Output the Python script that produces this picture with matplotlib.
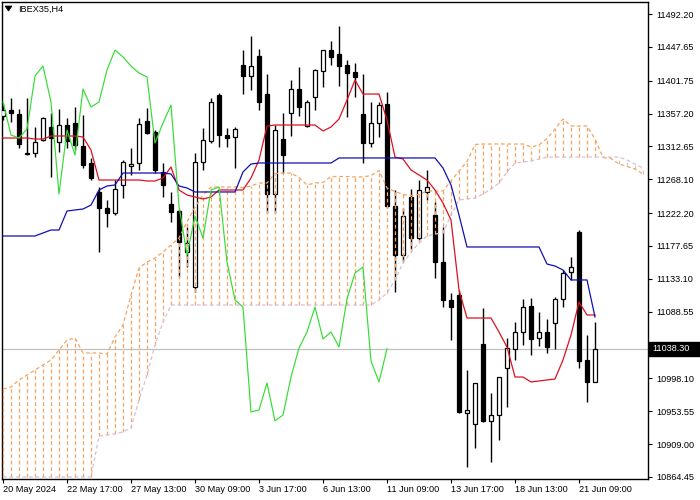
import matplotlib
matplotlib.use("Agg")
import matplotlib.pyplot as plt
from matplotlib.patches import Rectangle, Polygon
from matplotlib.transforms import blended_transform_factory

plt.rcParams['font.family'] = ['Liberation Sans', 'DejaVu Sans']

symbol = "IBEX35,H4"
last_price = 11038.30
shift = 26

opens = [11353.9, 11362.0, 11356.6, 11303.7, 11303.7, 11321.4, 11339.0, 11318.7, 11341.7, 11344.4,
         11313.2, 11290.2, 11250.9, 11229.2, 11222.4, 11260.4, 11286.1, 11290.2, 11347.1, 11332.2,
         11278.0, 11234.6, 11225.1, 11169.5, 11122.1, 11291.5, 11320.0, 11382.4, 11328.1, 11325.4,
         11423.0, 11408.1, 11435.3, 11383.7, 11248.1, 11322.7, 11358.0, 11390.5, 11340.3, 11379.7,
         11414.9, 11443.4, 11438.0, 11423.0, 11413.6, 11356.6, 11317.3, 11344.4, 11370.2, 11231.9,
         11165.4, 11243.8, 11188.5, 11250.9, 11219.7, 11156.0, 11104.4, 11111.2, 10951.2, 10936.3,
         11044.8, 10940.4, 10948.5, 11012.2, 11038.0, 11061.0, 11096.3, 11052.9, 11061.0, 11073.3,
         11105.8, 11142.4, 11196.6, 11023.1, 10993.3]
highs = [11371.5, 11378.3, 11363.4, 11378.3, 11339.0, 11352.5, 11358.0, 11363.4, 11351.2, 11366.1,
         11355.3, 11297.0, 11257.6, 11240.0, 11267.1, 11294.2, 11310.5, 11351.2, 11364.8, 11334.9,
         11290.2, 11250.9, 11227.8, 11203.4, 11303.7, 11337.6, 11378.3, 11385.1, 11337.6, 11339.0,
         11443.4, 11462.4, 11444.7, 11410.8, 11341.7, 11358.0, 11402.7, 11420.3, 11375.6, 11417.6,
         11443.4, 11455.6, 11475.9, 11429.8, 11425.8, 11410.8, 11372.9, 11372.9, 11386.4, 11253.6,
         11229.2, 11254.9, 11267.1, 11280.7, 11237.3, 11203.4, 11113.9, 11118.0, 11009.5, 10991.9,
         11093.6, 10978.3, 11000.0, 11052.9, 11074.6, 11105.8, 11107.1, 11088.2, 11078.7, 11108.5,
         11145.1, 11162.7, 11199.3, 11057.0, 11074.6]
lows = [11348.5, 11345.8, 11310.5, 11301.0, 11298.3, 11320.0, 11271.2, 11305.1, 11310.5, 11307.8,
        11283.4, 11267.1, 11169.5, 11203.4, 11219.7, 11242.7, 11273.9, 11280.7, 11329.5, 11276.6,
        11244.1, 11210.2, 11135.6, 11149.2, 11115.3, 11280.7, 11317.3, 11311.9, 11311.9, 11283.4,
        11383.7, 11389.2, 11362.0, 11222.4, 11222.4, 11276.6, 11326.8, 11353.9, 11339.0, 11362.0,
        11393.2, 11423.0, 11394.6, 11352.5, 11379.7, 11290.2, 11311.9, 11325.4, 11229.2, 11115.3,
        11156.0, 11173.6, 11185.8, 11240.0, 11134.3, 11094.9, 11050.2, 10951.2, 10878.0, 10903.8,
        10939.0, 10884.8, 10914.6, 10959.4, 11023.1, 11043.4, 11029.9, 11042.1, 11032.6, 11038.0,
        11094.9, 11131.6, 11012.2, 10966.1, 10993.3]
closes = [11362.0, 11358.0, 11315.9, 11302.4, 11318.7, 11351.2, 11324.1, 11341.7, 11320.0, 11314.6,
          11287.5, 11269.8, 11229.2, 11222.4, 11254.9, 11291.5, 11288.8, 11343.1, 11330.9, 11280.7,
          11260.4, 11223.7, 11183.1, 11181.7, 11291.5, 11321.4, 11372.9, 11328.1, 11324.1, 11336.3,
          11408.1, 11421.7, 11372.9, 11248.1, 11334.9, 11301.0, 11390.5, 11366.1, 11372.9, 11416.3,
          11443.4, 11433.9, 11421.7, 11412.2, 11406.8, 11317.3, 11344.4, 11368.8, 11231.9, 11165.4,
          11218.3, 11188.5, 11253.6, 11257.6, 11156.0, 11104.4, 11094.9, 10952.6, 10955.3, 10991.9,
          10940.4, 10948.5, 11000.0, 11039.4, 11061.0, 11094.9, 11051.6, 11061.0, 11040.7, 11105.8,
          11141.0, 11149.2, 11021.7, 10993.3, 11038.3]

tenkan = [11324.1, 11324.1, 11324.1, 11324.1, 11322.7, 11322.7, 11326.8, 11326.8, 11326.8, 11326.8,
          11325.4, 11307.8, 11267.1, 11267.1, 11267.1, 11267.1, 11267.1, 11267.1, 11265.8, 11265.8,
          11269.8, 11284.8, 11253.6, 11246.8, 11244.1, 11241.4, 11244.1, 11253.6, 11253.6, 11253.6,
          11253.6, 11269.8, 11294.2, 11340.3, 11341.7, 11341.7, 11341.7, 11341.7, 11341.7, 11341.7,
          11333.6, 11339.0, 11349.8, 11375.6, 11402.7, 11383.7, 11383.7, 11383.7, 11348.5, 11298.3,
          11295.6, 11280.7, 11273.9, 11267.1, 11253.6, 11235.9, 11212.9, 11118.0, 11080.0, 11080.0,
          11080.0, 11080.0, 11061.0, 11040.7, 11000.0, 11000.0, 10993.3, 10994.6, 10996.0, 10997.3,
          11023.1, 11057.0, 11101.7, 11084.1, 11084.1]
kijun = [11191.2, 11191.2, 11191.2, 11191.2, 11191.2, 11195.3, 11199.3, 11199.3, 11225.1, 11226.5,
         11227.8, 11233.2, 11253.6, 11259.0, 11260.4, 11276.6, 11276.6, 11276.6, 11276.6, 11276.6,
         11276.6, 11275.3, 11259.0, 11256.3, 11250.9, 11250.9, 11250.9, 11250.9, 11250.9, 11250.9,
         11278.0, 11288.8, 11290.2, 11290.2, 11290.2, 11290.2, 11290.2, 11290.2, 11290.2, 11290.2,
         11290.2, 11290.2, 11297.0, 11297.0, 11297.0, 11297.0, 11297.0, 11297.0, 11297.0, 11297.0,
         11297.0, 11297.0, 11297.0, 11297.0, 11297.0, 11283.4, 11260.4, 11219.7, 11176.3, 11176.3,
         11176.3, 11176.3, 11176.3, 11176.3, 11176.3, 11176.3, 11176.3, 11176.3, 11153.2, 11150.5,
         11145.1, 11131.6, 11131.6, 11131.6, 11081.4]
# Senkou span A for the first 26 displayed bars (based on bars before the window)
span_a_start = [10983.8, 10986.5, 10996.0, 11002.7, 11009.5, 11016.3, 11023.1, 11036.6, 11050.2, 11052.9,
                11032.6, 11032.6, 11032.6, 11031.2, 11054.3, 11070.5, 11111.2, 11147.8, 11156.0, 11161.4,
                11169.5, 11179.0, 11188.5, 11210.2, 11230.5, 11246.8]
span_b = [10864.5, 10864.5, 10864.5, 10864.5, 10864.5, 10864.5, 10864.5, 10864.5, 10864.5, 10864.5,
          10864.5, 10864.5, 10920.0, 10921.4, 10922.8, 10925.5, 10930.9, 10968.9, 11002.7, 11043.4,
          11074.6, 11097.6, 11097.6, 11097.6, 11097.6, 11097.6, 11097.6, 11097.6, 11097.6, 11097.6,
          11097.6, 11097.6, 11097.6, 11097.6, 11097.6, 11097.6, 11097.6, 11097.6, 11097.6, 11097.6,
          11097.6, 11097.6, 11097.6, 11097.6, 11097.6, 11097.6, 11097.6, 11104.4, 11113.9, 11131.6,
          11154.6, 11169.5, 11181.7, 11191.2, 11193.9, 11195.3, 11219.7, 11240.0, 11241.4, 11242.7,
          11248.1, 11254.9, 11263.1, 11278.0, 11290.2, 11291.5, 11292.9, 11295.6, 11298.3, 11298.3,
          11298.3, 11298.3, 11298.3, 11298.3, 11298.3, 11298.3, 11298.3, 11298.3, 11294.2, 11288.8,
          11283.4]

x_tick_bars = [0, 8, 16, 24, 32, 40, 48, 56, 64, 72]
x_tick_labels = ['20 May 2024', '22 May 17:00', '27 May 13:00', '30 May 09:00', '3 Jun 17:00',
                 '6 Jun 13:00', '11 Jun 09:00', '13 Jun 17:00', '18 Jun 13:00', '21 Jun 09:00']
y_ticks = [11492.20, 11447.65, 11401.75, 11357.20, 11312.65, 11268.10, 11222.20, 11177.65,
           11133.10, 11088.55, 11043.65, 10998.10, 10953.55, 10909.00, 10864.45]

# Ichimoku derived series
span_a = span_a_start + [(t + k) / 2 for t, k in zip(tenkan, kijun)][:len(span_b) - len(span_a_start)]
chikou = closes[shift:]

fig = plt.figure(figsize=(7, 5), dpi=100)
fig.patch.set_facecolor('white')
ax = fig.add_axes([2 / 700, 21 / 500, 646 / 700, 477 / 500])
ax.set_facecolor('white')
ax.set_xlim(-0.125, 80.625)
ax.set_ylim(10861.7, 11508.5)

# bid line
ax.axhline(last_price, color='#c0c0c0', lw=0.9, zorder=1)

# candles
n = len(closes)
for i in range(n):
    o, h, l, c = opens[i], highs[i], lows[i], closes[i]
    ax.plot([i, i], [l, h], color='black', lw=1.0, zorder=2, solid_capstyle='butt')
    bull = c >= o
    bottom = min(o, c)
    height = max(abs(c - o), 1.2)
    ax.add_patch(Rectangle((i - 0.31, bottom), 0.62, height,
                           facecolor='white' if bull else 'black',
                           edgecolor='black', lw=0.9, zorder=3))

# cloud hatching
sandy = '#F4A460'
thistle = '#D8BFD8'
dash = (0, (3, 2.2))
for j in range(len(span_b)):
    a, b = span_a[j], span_b[j]
    col = sandy if a >= b else thistle
    ax.plot([j, j], [min(a, b), max(a, b)], color=col, linestyle=dash, lw=0.9, zorder=4)
ax.plot(range(len(span_a)), span_a, color=sandy, linestyle=dash, lw=0.9, zorder=4)
ax.plot(range(len(span_b)), span_b, color=thistle, linestyle=dash, lw=0.9, zorder=4)

# lines
ax.plot(range(n), tenkan, color='#dd1020', lw=0.9, zorder=5)
ax.plot(range(n), kijun, color='#1010b0', lw=0.9, zorder=5)
ax.plot(range(len(chikou)), chikou, color='#33dd33', lw=0.85, zorder=5)

# axes styling
for s in ax.spines.values():
    s.set_color('black')
    s.set_linewidth(1.0)
ax.yaxis.tick_right()
ax.set_yticks(y_ticks)
# the 11043.65 label sits under the current-price box in the chart
ax.set_yticklabels(['' if abs(v - 11043.65) < 0.01 else '%.2f' % v for v in y_ticks])
ax.tick_params(axis='y', direction='out', length=3, width=0.8, pad=3, labelsize=6.6, colors='black')
ax.set_xticks(x_tick_bars)
ax.set_xticklabels(x_tick_labels, ha='left')
ax.tick_params(axis='x', direction='out', length=3, width=0.8, pad=1.5, labelsize=6.6, colors='black')
for lab in ax.get_xticklabels():
    lab.set_horizontalalignment('left')

# current price label
trans = blended_transform_factory(fig.transFigure, ax.transData)
h = 14 * 1.3558
box = Rectangle((649 / 700, last_price - h / 2), 51 / 700, h, transform=trans,
                facecolor='black', edgecolor='black', zorder=5)
fig.patches.append(box)
fig.text(652 / 700, last_price, '%.2f' % last_price, transform=trans, color='white',
         fontsize=6.6, va='center', ha='left', zorder=6)

# symbol header
tri = Polygon([[5 / 700, 1 - 6 / 500], [12 / 700, 1 - 6 / 500], [8.5 / 700, 1 - 11 / 500]],
              closed=True, transform=fig.transFigure, facecolor='black', edgecolor='black', lw=0.5)
fig.patches.append(tri)
fig.text(18 / 700, 1 - 9.5 / 500, symbol, fontsize=6.6, va='center', ha='left', color='black')

fig.savefig('out.png', dpi=100)
